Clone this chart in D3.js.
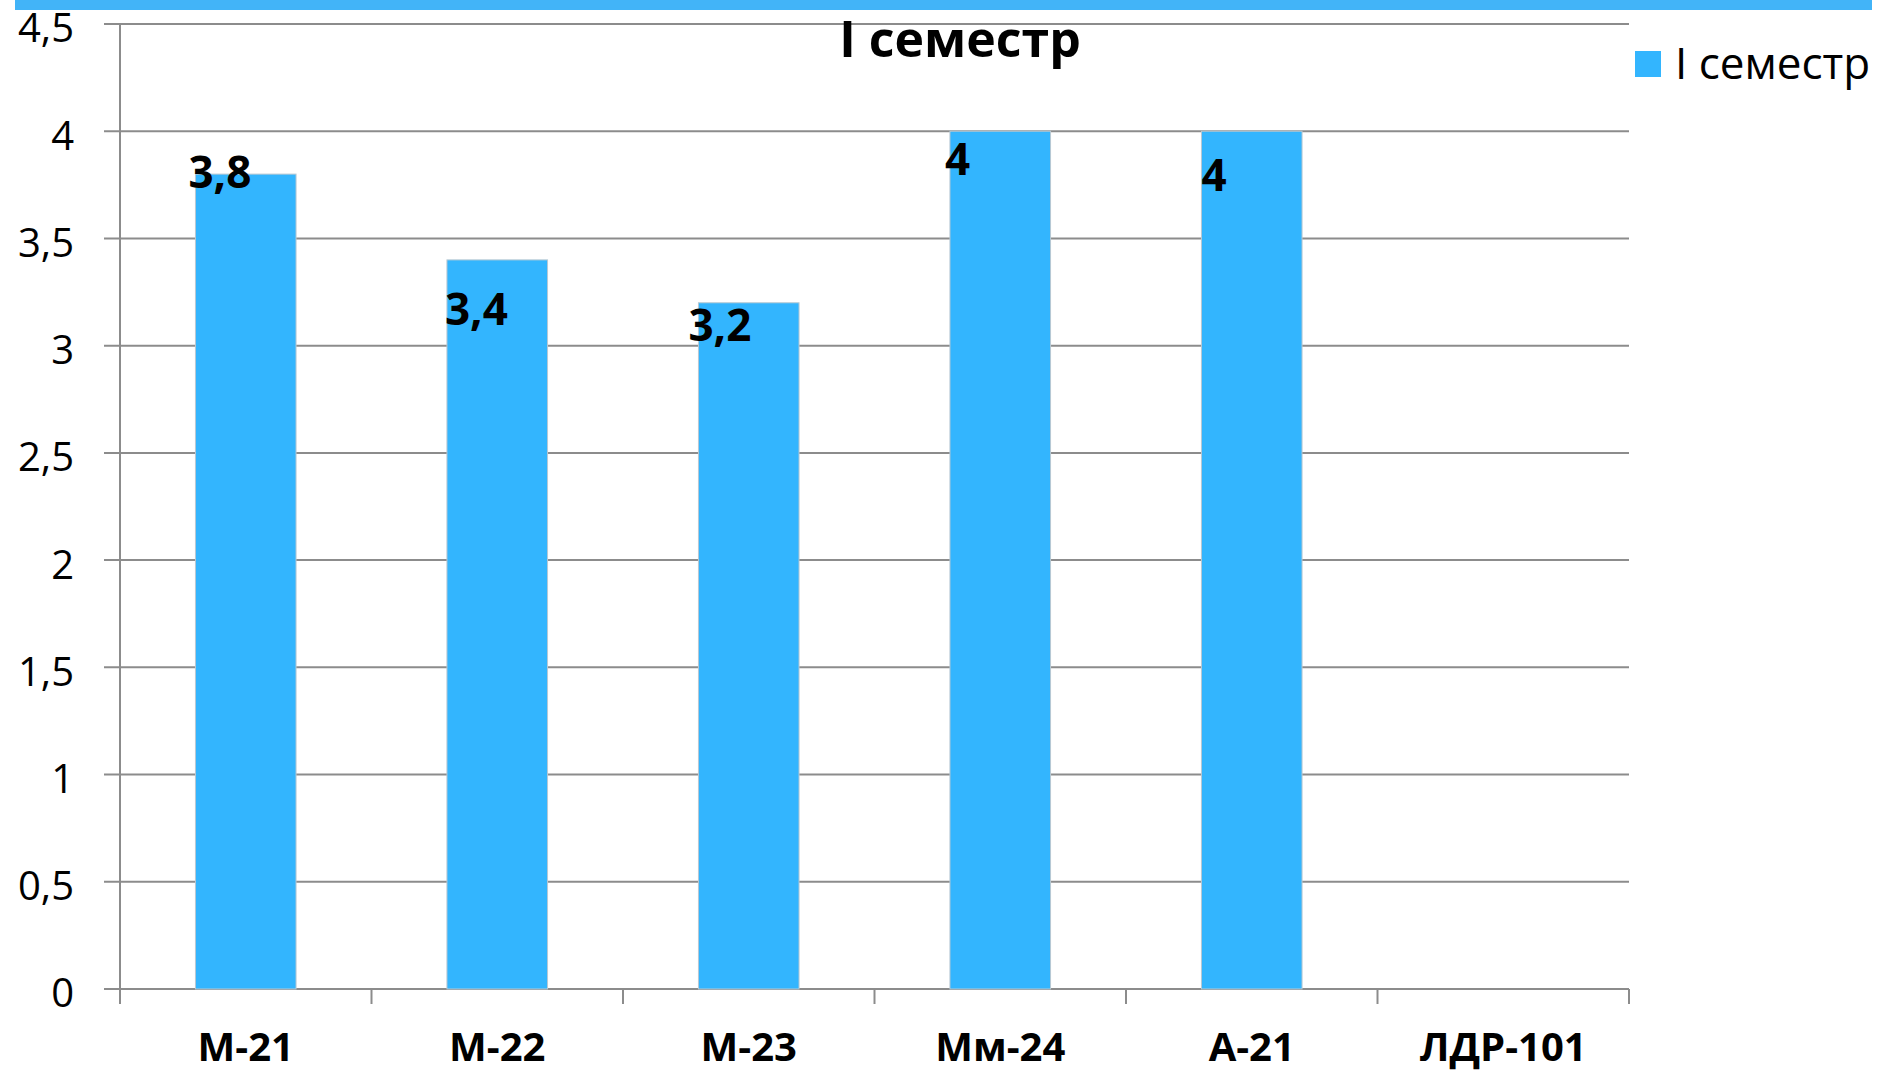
<!DOCTYPE html>
<html>
<head>
<meta charset="utf-8">
<script src="https://cdn.jsdelivr.net/npm/d3@7"></script>
<style>
  body { margin: 0; background: #fff; }
  svg text { font-family: "Open Sans", sans-serif; fill: #000; }
</style>
</head>
<body>
<svg id="chart"></svg>
<script>
const width = 1878;
const height = 1074;

// data
const groups = ['М-21', 'М-22', 'М-23', 'Мм-24', 'А-21', 'ЛДР-101'];
const grades = [3.8, 3.4, 3.2, 4, 4, null];
const yTicks = [0, 0.5, 1, 1.5, 2, 2.5, 3, 3.5, 4, 4.5];
const seriesName = 'I семестр';
const title = 'I семестр';

// hand-placed data labels: [dx from bar left, dy from bar top]
const labelShift = [[-7, 14], [-2, 65], [-10, 38], [-5, 44], [0, 60]];

const barColor = '#33b5fe';
const gridColor = '#8c8c8c';

const plot = {left: 120, right: 1629, top: 24, bottom: 989};

const comma = d => String(d).replace('.', ',');

const svg = d3.select('#chart')
  .attr('width', width)
  .attr('height', height);

const x = d3.scaleBand()
  .domain(groups)
  .range([plot.left, plot.right])
  .paddingInner(0.6)
  .paddingOuter(0.3);

const y = d3.scaleLinear()
  .domain([0, 4.5])
  .range([plot.bottom, plot.top]);

// boundaries between categories, for the x tick marks
const xEdge = d3.scaleLinear()
  .domain([0, groups.length])
  .range([plot.left, plot.right]);

// top stripe
svg.append('rect')
  .attr('x', 15).attr('y', 0)
  .attr('width', width - 21).attr('height', 10)
  .attr('fill', '#42b4f8');

// gridlines + y labels
const yAxis = svg.append('g').attr('class', 'y-axis');

yAxis.selectAll('line')
  .data(yTicks)
  .join('line')
    .attr('x1', plot.left - 16)
    .attr('x2', plot.right)
    .attr('y1', d => y(d))
    .attr('y2', d => y(d))
    .attr('stroke', gridColor)
    .attr('stroke-width', 2);

yAxis.selectAll('text')
  .data(yTicks)
  .join('text')
    .attr('x', 74)
    .attr('y', d => y(d))
    .attr('dy', '0.46em')
    .attr('text-anchor', 'end')
    .style('font-size', '40px')
    .text(comma);

// y axis line
svg.append('line')
  .attr('x1', plot.left).attr('x2', plot.left)
  .attr('y1', plot.top).attr('y2', plot.bottom + 15)
  .attr('stroke', gridColor)
  .attr('stroke-width', 2);

// x tick marks
svg.append('g')
  .selectAll('line')
  .data(d3.range(groups.length + 1))
  .join('line')
    .attr('x1', d => xEdge(d))
    .attr('x2', d => xEdge(d))
    .attr('y1', plot.bottom)
    .attr('y2', plot.bottom + 15)
    .attr('stroke', gridColor)
    .attr('stroke-width', 2);

// bars
const rows = groups.map((g, i) => ({group: g, value: grades[i], i}))
  .filter(d => d.value != null);

svg.append('g')
  .selectAll('rect')
  .data(rows)
  .join('rect')
    .attr('x', d => x(d.group))
    .attr('y', d => y(d.value))
    .attr('width', x.bandwidth())
    .attr('height', d => y(0) - y(d.value))
    .attr('fill', barColor)
    .attr('stroke', '#b8c8d2')
    .attr('stroke-width', 1);

// data labels
svg.append('g')
  .selectAll('text')
  .data(rows)
  .join('text')
    .attr('x', d => x(d.group) + labelShift[d.i][0])
    .attr('y', d => y(d.value) + labelShift[d.i][1])
    .style('font-size', '44px')
    .style('font-weight', 700)
    .text(d => comma(d.value));

// category labels
svg.append('g')
  .selectAll('text')
  .data(groups)
  .join('text')
    .attr('x', d => x(d) + x.bandwidth() / 2)
    .attr('y', 1061)
    .attr('text-anchor', 'middle')
    .style('font-size', '40px')
    .style('font-weight', 700)
    .text(d => d);

// title
svg.append('text')
  .attr('x', 960)
  .attr('y', 57)
  .attr('text-anchor', 'middle')
  .style('font-size', '50px')
  .style('font-weight', 700)
  .text(title);

// legend
const legend = svg.append('g');
legend.append('rect')
  .attr('x', 1635).attr('y', 51)
  .attr('width', 26).attr('height', 26)
  .attr('fill', barColor);
legend.append('text')
  .attr('x', 1675)
  .attr('y', 79)
  .style('font-size', '44px')
  .text(seriesName);
</script>
</body>
</html>
